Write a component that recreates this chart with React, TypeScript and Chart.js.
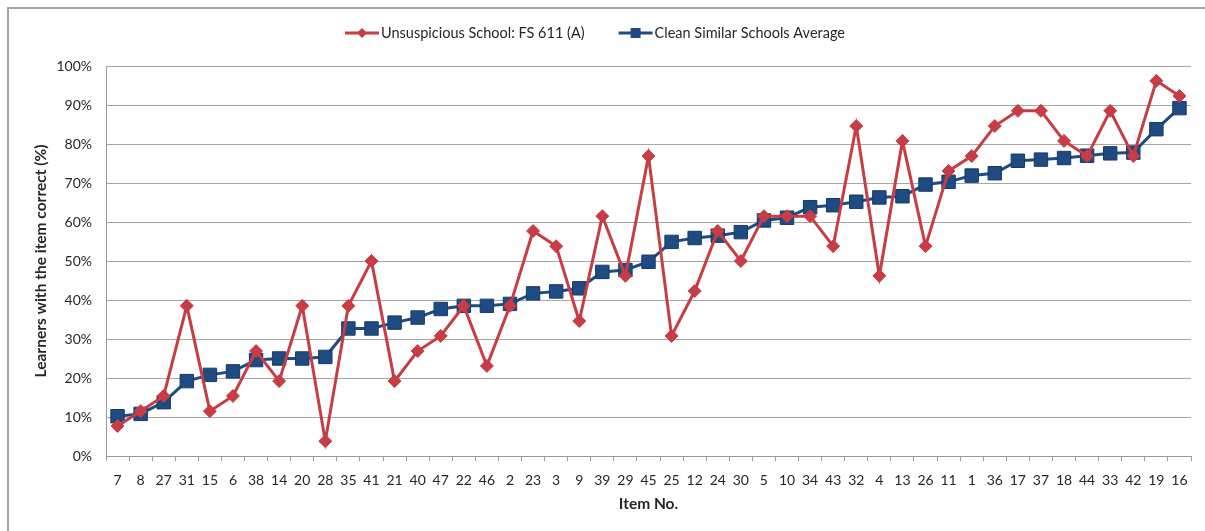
import React, { useEffect, useRef } from 'react';
import { Chart, registerables } from 'chart.js';

Chart.register(...registerables);

const categories = ['7', '8', '27', '31', '15', '6', '38', '14', '20', '28', '35', '41', '21', '40', '47', '22', '46', '2', '23', '3', '9', '39', '29', '45', '25', '12', '24', '30', '5', '10', '34', '43', '32', '4', '13', '26', '11', '1', '36', '17', '37', '18', '44', '33', '42', '19', '16'];

const schoolValues = [7.7, 11.5, 15.4, 38.5, 11.5, 15.4, 26.9, 19.2, 38.5, 3.8, 38.5, 50.0, 19.2, 26.9, 30.8, 38.5, 23.1, 38.5, 57.7, 53.8, 34.6, 61.5, 46.2, 76.9, 30.8, 42.3, 57.7, 50.0, 61.5, 61.5, 61.5, 53.8, 84.6, 46.2, 80.8, 53.8, 73.1, 76.9, 84.6, 88.5, 88.5, 80.8, 76.9, 88.5, 76.9, 96.2, 92.3];

const averageValues = [10.2, 10.8, 13.8, 19.2, 20.8, 21.7, 24.6, 25.0, 25.0, 25.4, 32.7, 32.7, 34.2, 35.5, 37.7, 38.5, 38.5, 39.0, 41.7, 42.2, 43.0, 47.2, 47.7, 49.8, 54.9, 55.9, 56.5, 57.4, 60.4, 61.1, 63.8, 64.3, 65.2, 66.3, 66.6, 69.6, 70.3, 71.9, 72.5, 75.7, 76.0, 76.4, 77.0, 77.6, 77.8, 83.8, 89.2];

const seriesNames = ['Unsuspicious School: FS 611 (A)', 'Clean Similar Schools Average'];
const yAxisTitle = 'Learners with the item correct (%)';
const xAxisTitle = 'Item No.';

const RED = '#C83C44';
const BLUE = '#1F4B83';
const FONT = 'Lato, "Open Sans", sans-serif';

const legendPlugin = {
  id: 'lineMarkerLegend',
  afterDraw(chart: any) {
    const ctx = chart.ctx as CanvasRenderingContext2D;
    ctx.save();
    ctx.font = `14.5px ${FONT}`;
    const lineLen = 34;
    const gap = 2;
    const itemGap = 34;
    const widths = seriesNames.map((n) => ctx.measureText(n).width);
    const total = widths.reduce((a, b) => a + b, 0) + 2 * (lineLen + gap) + itemGap;
    let x = 595 - total / 2;
    const y = 33;
    chart.data.datasets.forEach((ds: any, i: number) => {
      ctx.strokeStyle = ds.borderColor;
      ctx.lineWidth = 3;
      ctx.beginPath();
      ctx.moveTo(x, y);
      ctx.lineTo(x + lineLen, y);
      ctx.stroke();
      ctx.fillStyle = ds.borderColor;
      const cx = x + lineLen / 2;
      if (ds.pointStyle === 'rectRot') {
        const r = 5;
        ctx.beginPath();
        ctx.moveTo(cx, y - r);
        ctx.lineTo(cx + r, y);
        ctx.lineTo(cx, y + r);
        ctx.lineTo(cx - r, y);
        ctx.closePath();
        ctx.fill();
      } else {
        ctx.fillRect(cx - 5, y - 5, 10, 10);
      }
      x += lineLen + gap;
      ctx.fillStyle = '#262626';
      ctx.textBaseline = 'middle';
      ctx.textAlign = 'left';
      ctx.fillText(seriesNames[i], x, y);
      x += widths[i] + itemGap;
    });
    ctx.restore();
  },
};

export default function App() {
  const canvasRef = useRef<HTMLCanvasElement | null>(null);

  useEffect(() => {
    document.body.style.margin = '0';
    const canvas = canvasRef.current;
    if (!canvas) return;
    const chart = new Chart(canvas, {
      type: 'line',
      data: {
        labels: categories,
        datasets: [
          {
            label: seriesNames[0],
            data: schoolValues,
            borderColor: RED,
            backgroundColor: RED,
            borderWidth: 3,
            pointStyle: 'rectRot',
            pointRadius: 6.5,
            pointBorderWidth: 1,
            pointBackgroundColor: RED,
            pointBorderColor: RED,
            tension: 0,
          },
          {
            label: seriesNames[1],
            data: averageValues,
            borderColor: BLUE,
            backgroundColor: BLUE,
            borderWidth: 3,
            pointStyle: 'rect',
            pointRadius: 9.5,
            pointBorderWidth: 1,
            pointBackgroundColor: BLUE,
            pointBorderColor: '#173a66',
            tension: 0,
          },
        ],
      },
      options: {
        responsive: false,
        animation: false,
        layout: { padding: { top: 66, right: 14, left: 0, bottom: 0 } },
        plugins: {
          legend: { display: false },
          tooltip: { enabled: false },
        },
        scales: {
          x: {
            type: 'category',
            offset: true,
            afterFit(scale: any) {
              scale.height = 75;
            },
            grid: {
              offset: true,
              drawOnChartArea: false,
              drawTicks: true,
              tickLength: 5,
              color: '#9a9a9a',
            },
            border: { display: true, color: '#9a9a9a', width: 1 },
            ticks: {
              color: '#262626',
              font: { family: FONT, size: 14 },
              padding: 11,
              maxRotation: 0,
              autoSkip: false,
            },
            title: {
              display: true,
              text: xAxisTitle,
              color: '#262626',
              font: { family: FONT, size: 15.5, weight: 'bold' },
              padding: { top: 0, bottom: 18 },
            },
          },
          y: {
            min: 0,
            max: 100,
            afterFit(scale: any) {
              scale.width = 106;
            },
            grid: {
              color: '#a6a6a6',
              drawTicks: false,
              lineWidth: 1,
            },
            border: { display: true, color: '#9a9a9a', width: 1 },
            ticks: {
              stepSize: 10,
              color: '#262626',
              font: { family: FONT, size: 14 },
              padding: 14,
              callback: (v: any) => `${v}%`,
            },
            title: {
              display: true,
              text: yAxisTitle,
              color: '#262626',
              font: { family: FONT, size: 15.5, weight: 'bold' },
              padding: { top: 32, bottom: 0 },
            },
          },
        },
      },
      plugins: [legendPlugin],
    });
    return () => chart.destroy();
  }, []);

  return (
    <div style={{ position: 'fixed', left: 0, top: 0, width: 1205, height: 531, background: '#fff' }}>
      <canvas ref={canvasRef} width={1205} height={531} style={{ position: 'absolute', left: 0, top: 0 }} />
      <div
        style={{
          position: 'absolute',
          left: 7,
          top: 7,
          width: 1198,
          height: 524,
          borderLeft: '2px solid #a3a3a3',
          borderTop: '2px solid #a3a3a3',
          boxSizing: 'border-box',
          pointerEvents: 'none',
        }}
      />
    </div>
  );
}
